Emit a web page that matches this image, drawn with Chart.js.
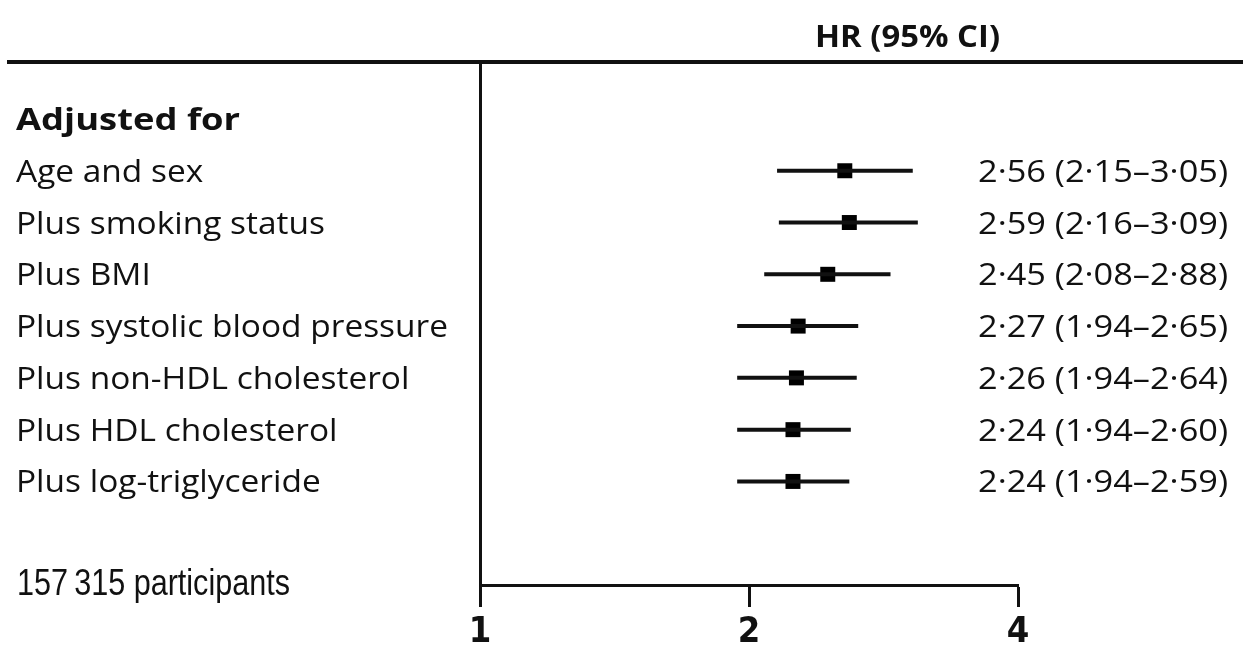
<!DOCTYPE html>
<html>
<head>
<meta charset="utf-8">
<script src="https://cdn.jsdelivr.net/npm/chart.js@4/dist/chart.umd.min.js"></script>
<style>
  html, body { margin: 0; padding: 0; background: #fff; }
  #wrap { width: 1243px; height: 646px; position: relative; }
</style>
</head>
<body>
<div id="wrap"><canvas id="c" width="1243" height="646"></canvas></div>
<script>
// Hazard ratios for each cumulative adjustment model
const models = [
  'Age and sex',
  'Plus smoking status',
  'Plus BMI',
  'Plus systolic blood pressure',
  'Plus non-HDL cholesterol',
  'Plus HDL cholesterol',
  'Plus log-triglyceride'
];
const hr     = [2.56, 2.59, 2.45, 2.27, 2.26, 2.24, 2.24];
const ciLow  = [2.15, 2.16, 2.08, 1.94, 1.94, 1.94, 1.94];
const ciHigh = [3.05, 3.09, 2.88, 2.65, 2.64, 2.60, 2.59];
const xTicks = [1, 2, 4];

const groupLabel  = 'Adjusted for';
const columnTitle = 'HR (95% CI)';
const footnote    = '157\u2009315 participants';

const INK = '#111';
const fmt = v => v.toFixed(2).replace('.', '\u00B7');
const hrText = i => `${fmt(hr[i])} (${fmt(ciLow[i])}\u2013${fmt(ciHigh[i])})`;

// One whisker dataset per model row (row 0 is the group heading)
const whiskers = models.map((m, i) => ({
  type: 'scatter',
  showLine: true,
  data: [{ x: ciLow[i], y: i + 1 }, { x: ciHigh[i], y: i + 1 }],
  borderColor: INK,
  borderWidth: 4,
  pointRadius: 0,
  borderCapStyle: 'butt'
}));

const estimates = {
  type: 'scatter',
  data: hr.map((v, i) => ({ x: v, y: i + 1 })),
  pointStyle: 'rect',
  pointRadius: 10.6,
  pointHoverRadius: 10.6,
  backgroundColor: '#000',
  borderWidth: 0
};

// Draws one line of text, scaled horizontally by sx
function squeezed(ctx, text, x, y, font, sx) {
  ctx.save();
  ctx.font = font;
  ctx.translate(x, y);
  ctx.scale(sx, 1);
  ctx.textAlign = 'left';
  ctx.textBaseline = 'alphabetic';
  ctx.fillText(text, 0, 0);
  ctx.restore();
}
function fitScale(ctx, font, text, width) {
  ctx.save();
  ctx.font = font;
  const w = ctx.measureText(text).width;
  ctx.restore();
  return width / w;
}

const tableText = {
  id: 'tableText',
  afterDraw(chart) {
    const { ctx } = chart;
    const y = chart.scales.y;
    const area = chart.chartArea;
    ctx.save();
    ctx.fillStyle = INK;

    // heading rule across the full width
    ctx.strokeStyle = INK;
    ctx.lineWidth = 4;
    ctx.beginPath();
    ctx.moveTo(7, area.top);
    ctx.lineTo(chart.width, area.top);
    ctx.stroke();

    const reg = '500 31px "Open Sans"';
    const bold = 'bold 31px "Open Sans"';
    const head = 'bold 31px "Open Sans"';
    const sxL = fitScale(ctx, reg, models[3], 432);
    const sxR = fitScale(ctx, reg, hrText(0), 250);

    squeezed(ctx, columnTitle, 815, 47, head, fitScale(ctx, head, columnTitle, 185));
    squeezed(ctx, groupLabel, 16, y.getPixelForValue(0) + 11, bold, fitScale(ctx, bold, groupLabel, 224));

    models.forEach((m, i) => {
      const py = y.getPixelForValue(i + 1) + 11;
      squeezed(ctx, m, 16, py, reg, sxL);
      squeezed(ctx, hrText(i), 978, py, reg, sxR);
    });

    const fn = '36px "Liberation Sans"';
    squeezed(ctx, footnote, 17, y.getPixelForValue(9) + 10, fn, fitScale(ctx, fn, footnote, 273));
    ctx.restore();
  }
};

new Chart(document.getElementById('c'), {
  type: 'scatter',
  data: { datasets: [...whiskers, estimates] },
  options: {
    responsive: false,
    animation: false,
    devicePixelRatio: 1,
    events: [],
    layout: { padding: { left: 480, right: 225, top: 62, bottom: 0 } },
    plugins: { legend: { display: false }, tooltip: { enabled: false } },
    scales: {
      x: {
        type: 'logarithmic',
        position: 'bottom',
        min: 1,
        max: 4,
        afterBuildTicks: s => { s.ticks = xTicks.map(v => ({ value: v })); },
        afterFit: s => { s.height = 61; },
        grid: { drawOnChartArea: false, drawTicks: true, tickLength: 22, tickWidth: 3, tickColor: INK },
        border: { display: true, width: 3, color: INK },
        ticks: {
          autoSkip: false,
          maxRotation: 0,
          padding: 4,
          color: INK,
          font: { family: '"DejaVu Sans Condensed", "DejaVu Sans"', size: 36, weight: 'bold' },
          callback: v => String(v)
        }
      },
      y: {
        type: 'linear',
        reverse: true,
        min: -1.1,
        max: 9,
        afterFit: s => { s.width = 0; },
        grid: { display: false, drawTicks: false },
        border: { display: true, width: 3, color: INK },
        ticks: { display: false }
      }
    }
  },
  plugins: [tableText]
});
</script>
</body>
</html>
